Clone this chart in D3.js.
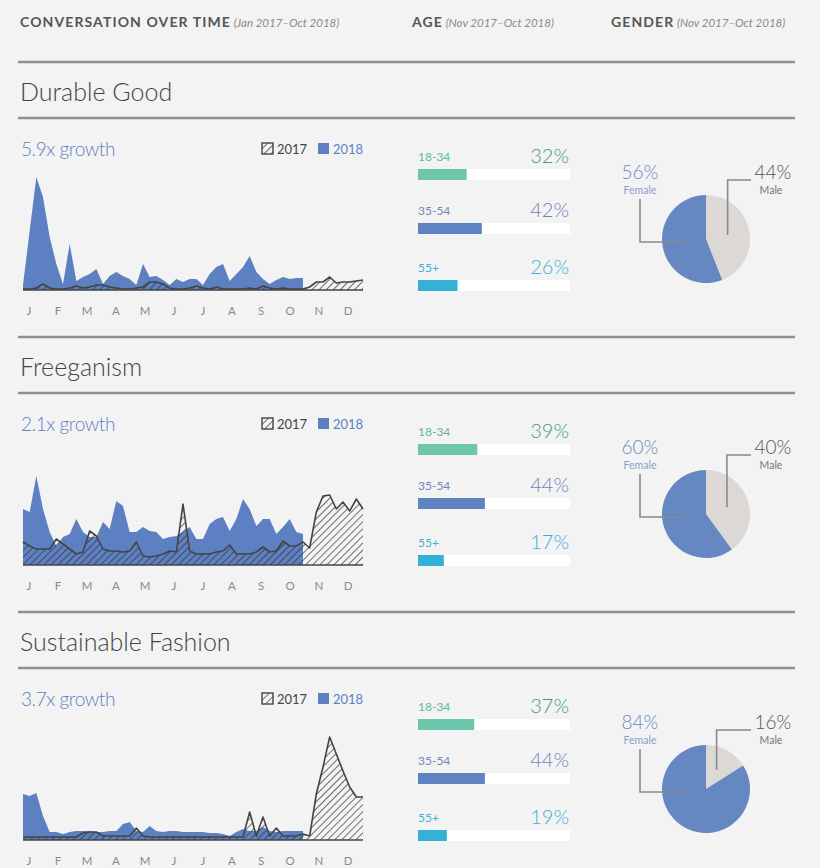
<!DOCTYPE html>
<html>
<head>
<meta charset="utf-8">
<script src="https://cdn.jsdelivr.net/npm/d3@7"></script>
<style>
  body { margin: 0; background: #f3f3f3; }
  svg { display: block; font-family: Lato, "Open Sans", sans-serif; }
</style>
</head>
<body>
<svg id="chart" width="820" height="868"></svg>
<script>
// ---- data ----
var months = ["J", "F", "M", "A", "M", "J", "J", "A", "S", "O", "N", "D"];
var topics = ["Durable Good", "Freeganism", "Sustainable Fashion"];
var growth = ["5.9x growth", "2.1x growth", "3.7x growth"];
var ageGroups = ["18-34", "35-54", "55+"];
var agePct = [[32, 42, 26], [39, 44, 17], [37, 44, 19]];
var femalePct = [56, 60, 84];
var malePct = [44, 40, 16];

// weekly volume (relative), 2017 full year, 2018 Jan-Oct
var durable2017 = [1, 1, 2, 6, 2, 1, 1, 2, 4, 2, 3, 5, 5, 3, 2, 1, 1, 2, 3, 8, 8, 6, 2, 1, 1, 2, 4, 2, 1, 3, 1, 1, 1, 1, 2, 1, 4, 2, 1, 2, 1, 1, 1, 3, 8, 8, 13, 7, 8, 8, 9, 10];
var durable2018 = [5, 59, 113, 93, 53, 26, 6, 46, 9, 13, 16, 21, 6, 14, 18, 14, 11, 5, 26, 13, 14, 10, 5, 11, 8, 11, 11, 5, 16, 23, 26, 9, 16, 23, 34, 18, 11, 6, 10, 13, 11, 12, 12];
var freegan2017 = [23, 19, 16, 16, 16, 26, 21, 16, 11, 13, 34, 29, 16, 14, 14, 13, 14, 23, 9, 8, 9, 11, 14, 13, 61, 14, 11, 11, 11, 13, 14, 20, 11, 11, 11, 13, 18, 13, 14, 24, 19, 19, 23, 17, 53, 69, 70, 56, 63, 54, 66, 56];
var freegan2018 = [56, 53, 89, 56, 33, 19, 28, 31, 46, 33, 28, 28, 43, 36, 64, 59, 33, 33, 38, 34, 33, 26, 28, 29, 33, 38, 26, 26, 41, 46, 48, 34, 46, 66, 56, 39, 46, 46, 31, 38, 46, 33, 31];
var fashion2017 = [3, 3, 3, 3, 3, 3, 3, 3, 3, 7, 8, 8, 4, 4, 4, 4, 4, 12, 4, 3, 3, 3, 3, 3, 3, 3, 3, 3, 3, 3, 3, 3, 3, 3, 28, 4, 23, 4, 12, 4, 4, 4, 6, 4, 46, 73, 103, 86, 69, 53, 43, 43];
var fashion2018 = [46, 44, 47, 24, 8, 8, 6, 8, 9, 9, 9, 8, 8, 9, 9, 16, 18, 9, 8, 14, 9, 8, 9, 9, 8, 8, 8, 8, 7, 7, 6, 4, 8, 11, 9, 9, 13, 9, 8, 9, 9, 9, 9];

var series2017 = [durable2017, freegan2017, fashion2017];
var series2018 = [durable2018, freegan2018, fashion2018];

// ---- colours ----
var blue = "#5d80c2", grey = "#8e8e8e", dark = "#444";
var ageBar = ["#6dc6ac", "#5f82c3", "#35b1d7"];
var ageLabel = ["#63b79b", "#6f86bd", "#3fb0d4"];
var ageNum = ["#3f9d74", "#6f84bb", "#3fb0d4"];

var svg = d3.select("#chart");
svg.append("rect").attr("width", 820).attr("height", 868).attr("fill", "#f3f3f3");

var defs = svg.append("defs");
defs.append("pattern")
    .attr("id", "hatch")
    .attr("patternUnits", "userSpaceOnUse")
    .attr("width", 5).attr("height", 5)
    .attr("patternTransform", "rotate(45)")
  .append("line")
    .attr("x1", 0).attr("y1", 0).attr("x2", 0).attr("y2", 5)
    .attr("stroke", "#333").attr("stroke-width", 1.4);

// ---- header ----
var heads = [
  { x: 20, bold: "CONVERSATION OVER TIME", note: "(Jan 2017\u2013Oct 2018)" },
  { x: 412, bold: "AGE", note: "(Nov 2017\u2013Oct 2018)" },
  { x: 611, bold: "GENDER", note: "(Nov 2017\u2013Oct 2018)" }
];
heads.forEach(function(h) {
  var t = svg.append("text").attr("x", h.x).attr("y", 27);
  t.append("tspan").text(h.bold)
    .attr("font-size", 14).attr("font-weight", 700)
    .attr("letter-spacing", 1.1).attr("fill", "#555");
  t.append("tspan").text(" " + h.note)
    .attr("font-size", 11.5).attr("font-style", "italic")
    .attr("fill", "#8a8a8a");
});

// ---- sections ----
var x = d3.scaleLinear().domain([0, 51]).range([23, 363]);
var monthX = d3.scalePoint().domain(d3.range(12)).range([29, 348]);

topics.forEach(function(topic, i) {
  var T = 62 + i * 275;
  var g = svg.append("g");

  g.append("line").attr("x1", 18).attr("x2", 795).attr("y1", T).attr("y2", T)
    .attr("stroke", grey).attr("stroke-width", 2.5);
  g.append("text").attr("x", 20).attr("y", T + 39).text(topic)
    .attr("font-size", 25).attr("font-weight", 300).attr("fill", "#444");
  g.append("line").attr("x1", 18).attr("x2", 795).attr("y1", T + 56).attr("y2", T + 56)
    .attr("stroke", grey).attr("stroke-width", 2.5);

  // growth + legend
  g.append("text").attr("x", 21).attr("y", T + 94).text(growth[i])
    .attr("font-size", 19).attr("font-weight", 300).attr("fill", blue)
    .attr("letter-spacing", -0.4);
  g.append("rect").attr("x", 262).attr("y", T + 81).attr("width", 11).attr("height", 11)
    .attr("fill", "url(#hatch)").attr("stroke", dark).attr("stroke-width", 1.4);
  g.append("text").attr("x", 277).attr("y", T + 92).text("2017")
    .attr("font-size", 13).attr("fill", "#444");
  g.append("rect").attr("x", 318).attr("y", T + 81).attr("width", 11).attr("height", 11)
    .attr("fill", blue);
  g.append("text").attr("x", 333).attr("y", T + 92).text("2018")
    .attr("font-size", 13).attr("fill", blue);

  // area chart
  var base = T + 228;
  var y = d3.scaleLinear().domain([0, 120]).range([base, base - 120]);
  var area = d3.area().x(function(d, k) { return x(k); }).y0(base).y1(function(d) { return y(d); });
  var line = d3.line().x(function(d, k) { return x(k); }).y(function(d) { return y(d); });

  g.append("path").datum(series2018[i]).attr("d", area).attr("fill", blue);
  g.append("path").datum(series2017[i]).attr("d", area).attr("fill", "url(#hatch)");
  g.append("path").datum(series2017[i]).attr("d", line)
    .attr("fill", "none").attr("stroke", dark).attr("stroke-width", 1.6)
    .attr("stroke-linejoin", "round");
  g.append("line").attr("x1", x(0)).attr("x2", x(51)).attr("y1", base).attr("y2", base)
    .attr("stroke", dark).attr("stroke-width", 1.6);

  g.selectAll(".month").data(months).enter().append("text")
    .attr("x", function(d, k) { return monthX(k); })
    .attr("y", T + 253)
    .attr("text-anchor", "middle")
    .attr("font-size", 11.5).attr("fill", "#8a8a8a")
    .text(function(d) { return d; });

  // age bars
  var bx = d3.scaleLinear().domain([0, 100]).range([0, 152]);
  var rowY = [T + 107, T + 161, T + 218];
  ageGroups.forEach(function(a, k) {
    g.append("text").attr("x", 418).attr("y", rowY[k] - 8).text(a)
      .attr("font-size", 12).attr("fill", ageLabel[k]);
    g.append("text").attr("x", 569).attr("y", rowY[k] - 6).text(agePct[i][k] + "%")
      .attr("text-anchor", "end").attr("font-size", 20).attr("font-weight", 300)
      .attr("fill", ageNum[k]);
    g.append("rect").attr("x", 418).attr("y", rowY[k]).attr("width", bx(100)).attr("height", 11)
      .attr("fill", "#ffffff");
    g.append("rect").attr("x", 418).attr("y", rowY[k]).attr("width", bx(agePct[i][k])).attr("height", 11)
      .attr("fill", ageBar[k]);
  });

  // gender pie
  var cx = 706, cy = T + 177, r = 44;
  var pie = d3.pie().sort(null).value(function(d) { return d.v; });
  var arcs = pie([{ k: "m", v: malePct[i] }, { k: "f", v: femalePct[i] }]);
  var arc = d3.arc().innerRadius(0).outerRadius(r);
  var pg = g.append("g").attr("transform", "translate(" + cx + "," + cy + ")");
  pg.selectAll("path").data(arcs).enter().append("path")
    .attr("d", arc)
    .attr("fill", function(d) { return d.data.k === "m" ? "#dbd8d6" : "#6587c2"; });

  var mc = arc.centroid(arcs[0]);
  var mx = cx + mc[0], my = cy + mc[1];
  g.append("path")
    .attr("d", "M" + 751 + "," + (T + 118) + "H" + mx + "V" + my)
    .attr("fill", "none").attr("stroke", "#8a8a8a").attr("stroke-width", 1.6);
  g.append("path")
    .attr("d", "M" + 640 + "," + (T + 137) + "V" + (cy + 3) + "H" + (cx - 22))
    .attr("fill", "none").attr("stroke", "#8a8a8a").attr("stroke-width", 1.6);

  g.append("text").attr("x", 640).attr("y", T + 117).attr("text-anchor", "middle")
    .text(femalePct[i] + "%").attr("font-size", 19).attr("font-weight", 300).attr("fill", "#6f86bf");
  g.append("text").attr("x", 640).attr("y", T + 132).attr("text-anchor", "middle")
    .text("Female").attr("font-size", 10.5).attr("fill", "#8d9cc8");
  g.append("text").attr("x", 773).attr("y", T + 117).attr("text-anchor", "middle")
    .text(malePct[i] + "%").attr("font-size", 19).attr("font-weight", 300).attr("fill", "#555");
  g.append("text").attr("x", 771).attr("y", T + 132).attr("text-anchor", "middle")
    .text("Male").attr("font-size", 10.5).attr("fill", "#777");
});
</script>
</body>
</html>
